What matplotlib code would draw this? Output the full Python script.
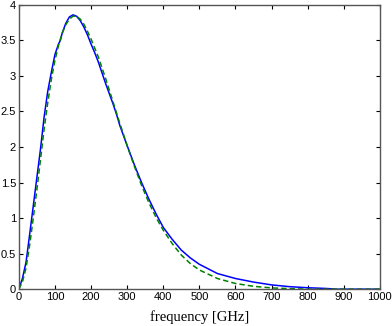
import matplotlib
matplotlib.use("Agg")
import matplotlib.pyplot as plt
import numpy as np

# measured spectrum (solid blue)
freq_meas = [0, 10, 20, 30, 40, 50, 60, 70, 80, 90, 100, 110, 115, 120, 130, 140, 150,
             160, 170, 180, 190, 200, 210, 220, 240, 260, 270, 280, 300, 320, 340, 360,
             380, 400, 425, 450, 475, 500, 550, 600, 650, 700, 750, 800, 850, 880, 1000]
val_meas = [0, 0.15, 0.38, 0.77, 1.17, 1.57, 1.97, 2.42, 2.78, 3.05, 3.3, 3.45, 3.5, 3.6,
            3.74, 3.83, 3.86, 3.84, 3.78, 3.69, 3.58, 3.45, 3.33, 3.2, 2.9, 2.62, 2.47,
            2.3, 2.02, 1.75, 1.5, 1.27, 1.06, 0.87, 0.7, 0.55, 0.44, 0.35, 0.22, 0.15,
            0.1, 0.06, 0.035, 0.02, 0.01, 0.0, 0.0]

# model spectrum (dashed green)
freq_model = [0, 10, 20, 30, 40, 50, 60, 70, 80, 90, 100, 110, 120, 130, 140, 150, 160,
              170, 180, 190, 200, 220, 240, 260, 280, 300, 320, 340, 360, 380, 400, 425,
              450, 475, 500, 550, 600, 650, 700, 750, 800, 1000]
val_model = [0, 0.1, 0.3, 0.62, 1.0, 1.4, 1.82, 2.25, 2.62, 2.95, 3.22, 3.43, 3.6, 3.72,
             3.8, 3.84, 3.84, 3.8, 3.73, 3.63, 3.52, 3.27, 2.97, 2.65, 2.33, 2.02, 1.73,
             1.46, 1.22, 1.01, 0.83, 0.64, 0.48, 0.36, 0.27, 0.15, 0.08, 0.04, 0.018,
             0.007, 0.0, 0.0]

xticks = np.arange(0, 1001, 100)
yticks = [0, 0.5, 1, 1.5, 2, 2.5, 3, 3.5, 4]
ytick_labels = ["0", "0.5", "1", "1.5", "2", "2.5", "3", "3.5", "4"]

fig = plt.figure(figsize=(3.92, 3.26), dpi=100)
ax = fig.add_axes([0.048, 0.113, 0.921, 0.872])

ax.plot(freq_meas, val_meas, color="#0000ff", linewidth=1.1)
ax.plot(freq_model, val_model, color="#008000", linewidth=1.1, linestyle=(0, (3.5, 2)))

ax.set_xlim(0, 1000)
ax.set_ylim(0, 4)
ax.set_xticks(xticks)
ax.set_yticks(yticks)
ax.set_yticklabels(ytick_labels)
ax.tick_params(direction="in", length=3, width=0.8, top=True, right=True,
               labelsize=8, pad=2, colors="black")
for lab in ax.get_xticklabels() + ax.get_yticklabels():
    lab.set_family("Liberation Sans")
for spine in ax.spines.values():
    spine.set_color("#555555")
    spine.set_linewidth(1.0)

ax.set_xlabel("frequency [GHz]", family="Liberation Serif", fontsize=10.5, labelpad=6)

fig.savefig("out.png", dpi=100)
